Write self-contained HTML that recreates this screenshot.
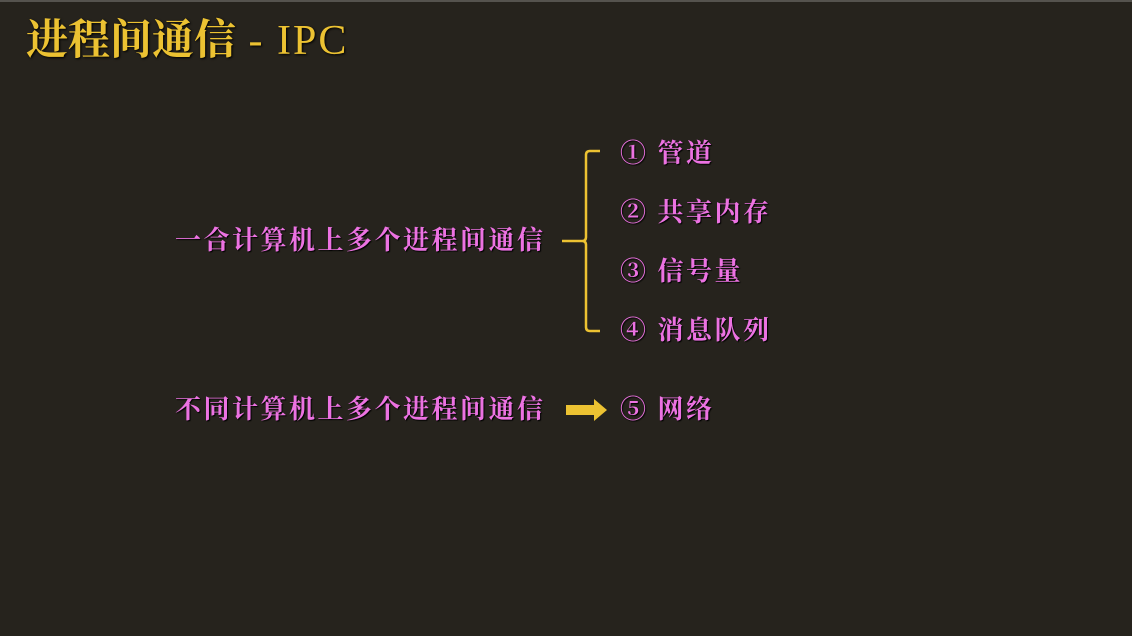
<!DOCTYPE html>
<html><head><meta charset="utf-8"><style>
html,body{margin:0;padding:0}
body{width:1132px;height:634px;background:#26231d;position:relative;overflow:hidden;border-top:2px solid #55534e;box-sizing:border-box}
.t{position:absolute;white-space:nowrap;font-family:"Liberation Serif","Noto Serif CJK SC",serif;font-weight:bold;line-height:1}
.title{left:26px;top:18px;font-size:42px;color:#ecc232;font-weight:bold;text-shadow:1px 1px 2px #000}
.title span{font-weight:normal;letter-spacing:2px}
.p{color:#ec72e2;font-size:26px;text-shadow:1px 1px 1px #000;letter-spacing:2.5px}
</style></head><body>
<div class="t title">进程间通信<span> - IPC</span></div>
<div class="t p" style="left:175px;top:226px">一合计算机上多个进程间通信</div>
<div class="t p" style="left:175px;top:395px">不同计算机上多个进程间通信</div>
<div class="t p" style="left:620px;top:139px">① 管道</div>
<div class="t p" style="left:620px;top:198px">② 共享内存</div>
<div class="t p" style="left:620px;top:257px">③ 信号量</div>
<div class="t p" style="left:620px;top:316px">④ 消息队列</div>
<div class="t p" style="left:620px;top:395px">⑤ 网络</div>
<svg style="position:absolute;left:0;top:0" width="1132" height="634">
<path d="M600 149 H590 Q586 149 586 153 V235 Q586 239 582 239 H562 M582 239 Q586 239 586 243 V325 Q586 329 590 329 H600" fill="none" stroke="#ecc232" stroke-width="2.5"/>
<polygon points="566,403 594,403 594,397 607,408 594,419 594,413 566,413" fill="#ecc232"/>
</svg>
</body></html>
